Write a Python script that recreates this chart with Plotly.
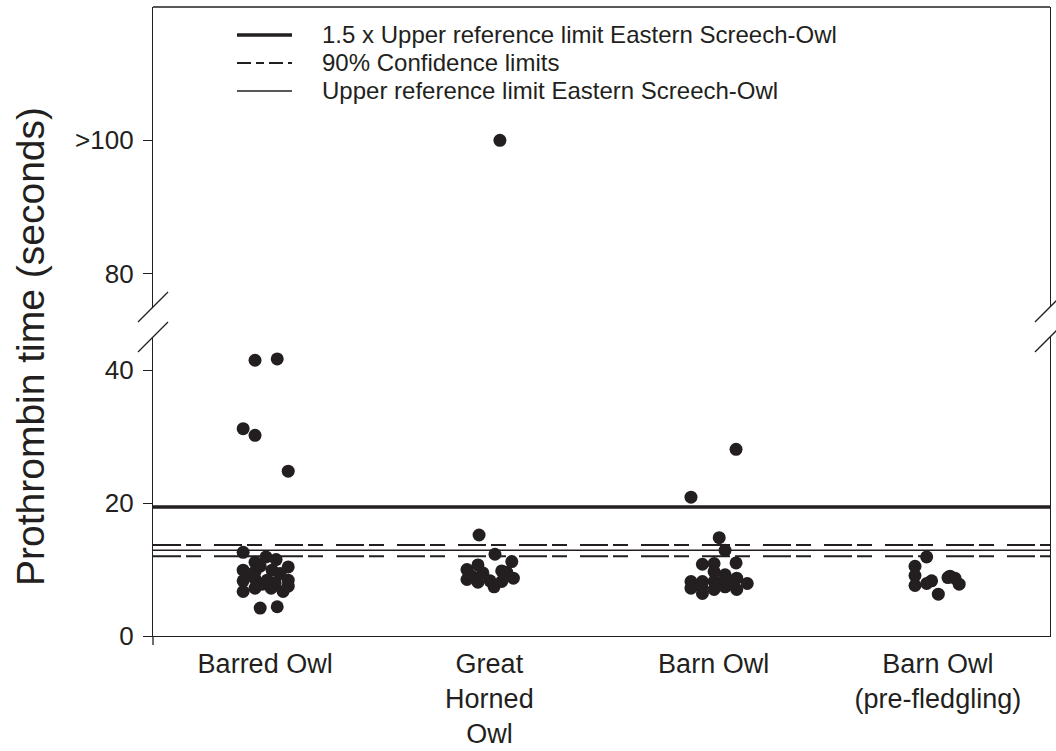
import plotly.graph_objects as go

# ---------------- data ----------------
categories = ["Barred Owl", "Great<br>Horned<br>Owl", "Barn Owl", "Barn Owl<br>(pre-fledgling)"]

# Barred Owl (category 0): prothrombin times (s) and horizontal jitter (category units)
barred_vals = [41.5, 41.7, 31.2, 30.2, 24.8,
               12.6, 11.9, 11.5, 11.1, 10.4, 10.5, 9.9, 9.7, 9.9, 9.4, 9.2, 8.6,
               8.4, 8.3, 8.4, 8.0, 7.8, 7.2, 7.2, 7.5, 6.7, 6.7, 4.2, 4.4]
barred_jit = [-0.045, 0.054, -0.098, -0.045, 0.103,
              -0.098, 0.004, 0.049, -0.045, 0.103, -0.022, -0.098, -0.045, 0.031, 0.067, -0.067, -0.045,
              0.009, -0.098, 0.103, 0.045, -0.013, -0.045, 0.027, 0.103, -0.098, 0.080, -0.022, 0.054]

# Great Horned Owl (category 1)
gho_vals = [15.2, 12.3, 11.2, 10.7, 10.0, 9.5, 9.8, 9.6, 8.5, 8.1, 8.3, 7.4, 8.2, 8.7, 9.0]
gho_jit = [-0.046, 0.025, 0.100, -0.051, -0.100, -0.029, 0.055, 0.077, -0.100, -0.051, 0.003, 0.021, 0.055, 0.107, -0.078]
gho_high_vals = [100]          # plotted as ">100"
gho_high_jit = [0.047]

# Barn Owl (category 2)
barn_vals = [28.1, 20.9, 14.8, 12.9, 10.8, 10.9, 11.0, 9.7, 9.2, 8.2, 8.7, 8.2, 8.2, 7.2, 6.4,
             7.0, 7.4, 7.0, 7.9, 7.4, 8.0, 7.8]
barn_jit = [0.100, -0.101, 0.025, 0.051, -0.050, 0.002, 0.100, 0.002, 0.051, 0.002, 0.103, -0.101, -0.050,
            -0.101, -0.050, 0.002, 0.051, 0.103, 0.150, -0.052, 0.024, 0.074]

# Barn Owl pre-fledgling (category 3)
pre_vals = [11.9, 10.5, 9.1, 7.6, 7.9, 8.3, 6.3, 9.0, 8.7, 7.8, 8.8]
pre_jit = [-0.050, -0.102, -0.102, -0.102, -0.050, -0.028, 0.002, 0.054, 0.076, 0.095, 0.045]

# reference lines (seconds)
ref_15_upper = 19.4      # 1.5 x upper reference limit
ci_upper = 13.7          # 90% confidence limits
ci_lower = 12.0
ref_upper = 12.9         # upper reference limit

legend_labels = ["1.5 x Upper reference limit Eastern Screech-Owl",
                 "90% Confidence limits",
                 "Upper reference limit Eastern Screech-Owl"]

lower_ticks = [0, 20, 40]
upper_ticks = [80, 100]
upper_ticktext = ["80", ">100"]

# ---------------- figure ----------------
INK = "#231F20"
FONT = "Liberation Sans, Arial, sans-serif"
DASH = "28px,5px,15px,13px"

fig = go.Figure()

def pts(idx, jit, vals, yaxis="y"):
    fig.add_trace(go.Scatter(
        x=[idx + j for j in jit], y=vals, mode="markers", xaxis="x", yaxis=yaxis,
        marker=dict(size=13, color=INK, line=dict(width=0)),
        showlegend=False, hoverinfo="y"))

xr = [-0.5, 3.5]
fig.add_trace(go.Scatter(x=xr, y=[ref_15_upper] * 2, mode="lines",
                         line=dict(color=INK, width=3.5), showlegend=False, hoverinfo="skip"))
fig.add_trace(go.Scatter(x=xr, y=[ci_upper] * 2, mode="lines",
                         line=dict(color=INK, width=2, dash=DASH), showlegend=False, hoverinfo="skip"))
fig.add_trace(go.Scatter(x=xr, y=[ci_lower] * 2, mode="lines",
                         line=dict(color=INK, width=2, dash=DASH), showlegend=False, hoverinfo="skip"))
fig.add_trace(go.Scatter(x=xr, y=[ref_upper] * 2, mode="lines",
                         line=dict(color=INK, width=1.4), showlegend=False, hoverinfo="skip"))

pts(0, barred_jit, barred_vals)
pts(1, gho_jit, gho_vals)
pts(1, gho_high_jit, gho_high_vals, yaxis="y2")
pts(2, barn_jit, barn_vals)
pts(3, pre_jit, pre_vals)

# ---------------- layout ----------------
L, R, T, B = 153, 6, 7, 115
H = 751 - T - B
lower_top = (636 - 337) / H
upper_bot = (636 - 307) / H

axis_common = dict(showgrid=False, zeroline=False, showline=True, linecolor=INK, linewidth=1.3,
                   automargin=False, tickfont=dict(family=FONT, size=26, color=INK))

fig.update_layout(
    width=1056, height=751,
    margin=dict(l=L, r=R, t=T, b=B),
    paper_bgcolor="white", plot_bgcolor="white",
    font=dict(family=FONT, color=INK),
    showlegend=False,
    xaxis=dict(range=xr, tickvals=[0, 1, 2, 3], ticktext=categories, ticks="",
               anchor="y", ticklabelstandoff=3,
               **{**axis_common, "tickfont": dict(family=FONT, size=27, color=INK)}),
    yaxis=dict(domain=[0, lower_top], range=[0, 45], tickvals=lower_ticks, ticks="outside",
               ticklen=9, tickwidth=1.3, tickcolor=INK, mirror=True, anchor="x",
               ticklabelstandoff=4, **axis_common),
    yaxis2=dict(domain=[upper_bot, 1], range=[75, 120], tickvals=upper_ticks, ticktext=upper_ticktext,
                ticks="outside", ticklen=9, tickwidth=1.3, tickcolor=INK, mirror=True, anchor="x",
                ticklabelstandoff=4, **axis_common),
)

# axis title spanning both segments
fig.add_annotation(text="Prothrombin time (seconds)", textangle=-90, xref="paper", yref="paper",
                   x=0, y=(636 - 347) / H, xshift=-123, xanchor="center", yanchor="middle", showarrow=False,
                   font=dict(family=FONT, size=39, color=INK))

shapes = []
# top border of the frame
shapes.append(dict(type="line", xref="paper", yref="paper", x0=0, x1=1, y0=1, y1=1,
                   line=dict(color=INK, width=1.3)))
# axis-break slashes (left and right, at both segment ends)
for xp in (0, 1):
    for yp in (lower_top, upper_bot):
        shapes.append(dict(type="line", xref="paper", yref="paper", xsizemode="pixel", ysizemode="pixel",
                           xanchor=xp, yanchor=yp, x0=-15, x1=15, y0=-15, y1=15,
                           line=dict(color=INK, width=1.3)))
# small tick at the lower-left corner of the x axis
shapes.append(dict(type="line", xref="paper", yref="paper", xsizemode="pixel", ysizemode="pixel",
                   xanchor=0, yanchor=0, x0=0, x1=0, y0=0, y1=-9, line=dict(color=INK, width=1.3)))

# legend (drawn inside the upper panel)
leg_y = [(636 - 35) / H, (636 - 63) / H, (636 - 91) / H]
leg_styles = [dict(width=3.5), dict(width=1.8, dash="14px,5px,8px,5px"), dict(width=1.4)]
lx0, lx1, ltx = (237 - L) / 897, (292 - L) / 897, (320 - L) / 897
for yy, st, lab in zip(leg_y, leg_styles, legend_labels):
    shapes.append(dict(type="line", xref="paper", yref="paper", x0=lx0, x1=lx1, y0=yy, y1=yy,
                       line=dict(color=INK, **st)))
    fig.add_annotation(text=lab, xref="paper", yref="paper", x=ltx, y=yy, xanchor="left",
                       yanchor="middle", showarrow=False, font=dict(family=FONT, size=24, color=INK))

fig.update_layout(shapes=shapes)

fig.write_html("out.html")
